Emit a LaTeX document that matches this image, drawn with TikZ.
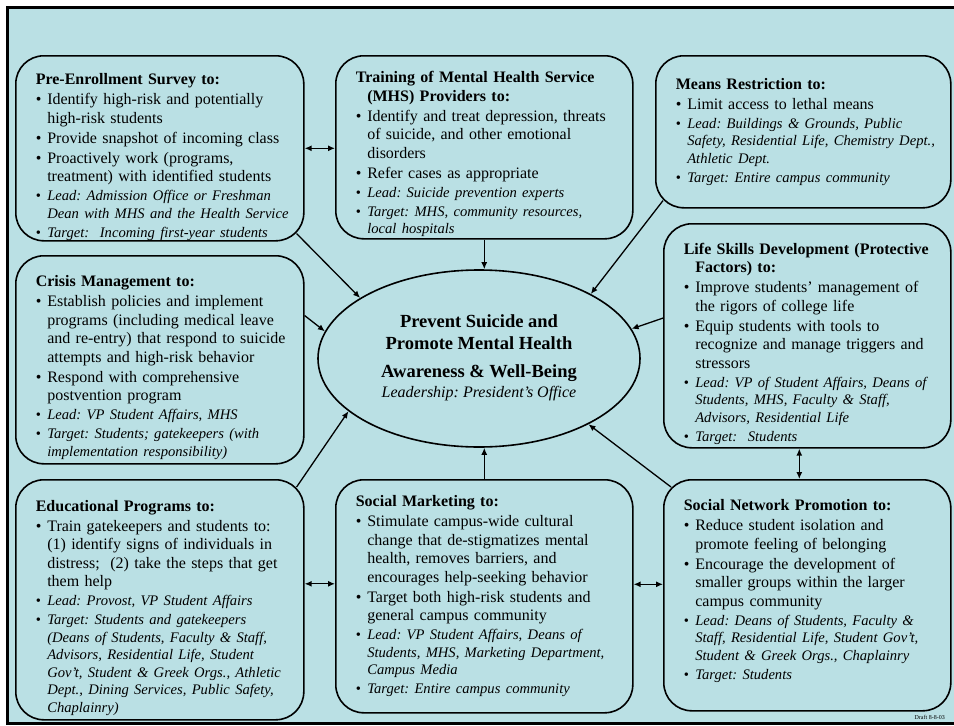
\documentclass[tikz,border=0pt]{standalone}
\usepackage{fontspec}
\setmainfont{Liberation Serif}
\usetikzlibrary{shapes.geometric,arrows.meta,calc}
\definecolor{panelblue}{RGB}{186,224,228}
\frenchspacing
\newcommand\hd[2][0pt]{{\bfseries\leftskip=5pt\hangindent=11.5pt\hangafter=1\noindent\rule{0pt}{#1}#2\par}}
\newcommand\itm[1]{{\vspace{1.5pt}\leftskip=5pt\hangindent=11.5pt\hangafter=1\noindent\makebox[11.5pt][l]{\textbullet}#1\par}}
\newcommand\itl[1]{{\vspace{1.5pt}\fontsize{14.6}{17.5}\selectfont\leftskip=5pt\hangindent=11.5pt\hangafter=1\noindent\makebox[11.5pt][l]{\textbullet}\itshape#1\par}}

\begin{document}
\begin{tikzpicture}[x=1pt,y=-1pt,
  >={Latex[length=7pt,width=6pt]},
  box/.style={draw, fill=panelblue, rectangle, rounded corners=28pt, line width=1.6pt,
    anchor=north west, inner xsep=15pt, inner ysep=0pt, align=left,
    font=\fontsize{16}{18.5}\selectfont\frenchspacing},
  link/.style={line width=1.3pt}]
\useasboundingbox (0,0) rectangle (954,726);
\draw[line width=3pt, fill=panelblue] (7,7) rectangle (965,723);

\node[box, minimum width=288pt, minimum height=185pt, text width=258pt] (pre) at (15,55) {
  \hd[29pt]{Pre-Enrollment Survey to:}
  \itm{Identify high-risk and potentially\newline high-risk students}
  \itm{Provide snapshot of incoming class}
  \itm{Proactively work (programs,\newline treatment) with identified students}
  \itl{Lead: Admission Office or Freshman\newline Dean with MHS and the Health Service}
  \itl{Target:\ \ Incoming first-year students}};
\node[box, minimum width=297pt, minimum height=183pt, text width=267pt] (train) at (335,55) {
  \hd[25pt]{Training of Mental Health Service\newline (MHS) Providers to:}
  \itm{Identify and treat depression, threats\newline of suicide, and other emotional\newline disorders}
  \itm{Refer cases as appropriate}
  \itl{Lead: Suicide prevention experts}
  \itl{Target: MHS, community resources,\newline local hospitals}};
\node[box, minimum width=295pt, minimum height=152pt, text width=265pt] (means) at (655,55) {
  \hd{Means Restriction to:}
  \itm{Limit access to lethal means}
  \itl{Lead: Buildings \& Grounds, Public\newline Safety, Residential Life, Chemistry Dept.,\newline Athletic Dept.}
  \itl{Target: Entire campus community}};
\node[box, minimum width=287pt, minimum height=224pt, text width=257pt] (life) at (663,223) {
  \hd[27pt]{Life Skills Development (Protective\newline Factors) to:}
  \itm{Improve students’ management of\newline the rigors of college life}
  \itm{Equip students with tools to\newline recognize and manage triggers and\newline stressors}
  \itl{Lead: VP of Student Affairs, Deans of\newline Students, MHS, Faculty \& Staff,\newline Advisors, Residential Life}
  \itl{Target:\ \ Students}};
\node[box, minimum width=288pt, minimum height=208pt, text width=258pt] (crisis) at (15,255) {
  \hd[27pt]{Crisis Management to:}
  \itm{Establish policies and implement\newline programs (including medical leave\newline and re-entry) that respond to suicide\newline attempts and high-risk behavior}
  \itm{Respond with comprehensive\newline postvention program}
  \itl{Lead: VP Student Affairs, MHS}
  \itl{Target: Students; gatekeepers (with\newline implementation responsibility)}};
\node[box, minimum width=288pt, minimum height=240pt, text width=258pt] (edu) at (15,479) {
  \hd[27pt]{Educational Programs to:}
  \itm{Train gatekeepers and students to:\newline (1) identify signs of individuals in\newline distress;\ \ (2) take the steps that get\newline them help}
  \itl{Lead: Provost, VP Student Affairs}
  \itl{Target: Students and gatekeepers\newline (Deans of Students, Faculty \& Staff,\newline Advisors, Residential Life, Student\newline Gov’t, Student \& Greek Orgs., Athletic\newline Dept., Dining Services, Public Safety,\newline Chaplainry)}};
\node[box, minimum width=297pt, minimum height=233pt, text width=267pt] (mkt) at (335,479) {
  \hd{Social Marketing to:}
  \itm{Stimulate campus-wide cultural\newline change that de-stigmatizes mental\newline health, removes barriers, and\newline encourages help-seeking behavior}
  \itm{Target both high-risk students and\newline general campus community}
  \itl{Lead: VP Student Affairs, Deans of\newline Students, MHS, Marketing Department,\newline Campus Media}
  \itl{Target: Entire campus community}};
\node[box, minimum width=287pt, minimum height=231pt, text width=257pt] (net) at (663,479) {
  \hd{Social Network Promotion to:}
  \itm{Reduce student isolation and\newline promote feeling of belonging}
  \itm{Encourage the development of\newline smaller groups within the larger\newline campus community}
  \itl{Lead: Deans of Students, Faculty \&\newline Staff, Residential Life, Student Gov’t,\newline Student \& Greek Orgs., Chaplainry}
  \itl{Target: Students\rule[-12pt]{0pt}{12pt}}};

\node[draw, ellipse, fill=panelblue, line width=1.6pt, minimum width=322pt, minimum height=177pt,
  inner sep=0pt, font=\fontsize{18.5}{22}\selectfont\bfseries] (goal) at (479,358.5)
  {\raisebox{-7pt}{\begin{tabular}{@{}c@{}}Prevent Suicide and\\Promote Mental Health\\[6pt]Awareness \& Well-Being\\[-2pt]
   {\fontsize{16}{18}\selectfont\mdseries\itshape Leadership: President’s Office}\end{tabular}}};

\node[font=\fontsize{6}{7}\selectfont, anchor=south east, inner sep=1pt] (draft) at (946,721) {Draft 8-8-03};

\draw[link, <->] (pre.east) -- (pre.east -| train.west);
\draw[link, ->] (train.south) -- (train.south |- goal.north);
\draw[link, ->] ($(pre.south east)+(-8,-8)$) -- (goal.153);
\draw[link, ->] ($(means.south west)+(8,-8)$) -- (goal.30);
\draw[link, ->] (life.173) -- (goal.11);
\draw[link, ->] (crisis.17) -- (goal.170);
\draw[link, ->] ($(edu.north east)+(-8,8)$) -- (goal.202);
\draw[link, ->] (mkt.north) -- (mkt.north |- goal.south);
\draw[link, ->] ($(net.north west)+(8,8)$) -- (goal.329);
\draw[link, <->] ([yshift=16pt]edu.east) -- ([yshift=16pt]edu.east -| mkt.west);
\draw[link, <->] ([yshift=12pt]mkt.east) -- ([yshift=12pt]mkt.east -| net.west);
\draw[link, <->] ([xshift=-8pt]life.south) -- ([xshift=-8pt]life.south |- net.north);
\end{tikzpicture}
\end{document}
